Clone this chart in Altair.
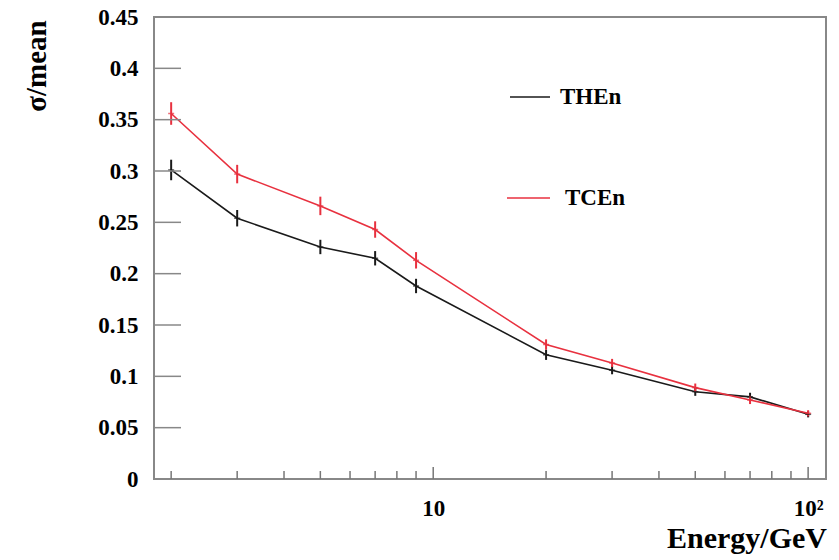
import altair as alt
import pandas as pd

# ---- data ----
energy = [2, 3, 5, 7, 9, 20, 30, 50, 70, 100]
then_vals = [0.301, 0.254, 0.226, 0.215, 0.188, 0.121, 0.106, 0.085, 0.080, 0.063]
then_err = [0.010, 0.008, 0.007, 0.007, 0.007, 0.005, 0.004, 0.004, 0.004, 0.003]
tcen_vals = [0.356, 0.297, 0.266, 0.243, 0.213, 0.131, 0.113, 0.089, 0.077, 0.064]
tcen_err = [0.011, 0.009, 0.009, 0.008, 0.008, 0.005, 0.004, 0.004, 0.004, 0.003]
series_names = ["THEn", "TCEn"]
series_colors = ["#1a1a1a", "#e8313f"]
y_tick_values = [0, 0.05, 0.1, 0.15, 0.2, 0.25, 0.3, 0.35, 0.4, 0.45]
x_minor_ticks = [2, 3, 4, 5, 6, 7, 8, 9, 20, 30, 40, 50, 60, 70, 80, 90]
x_major_ticks = [10, 100]

rows = []
for name, vals, errs in [("THEn", then_vals, then_err), ("TCEn", tcen_vals, tcen_err)]:
    for e, v, s in zip(energy, vals, errs):
        rows.append({"series": name, "energy": e, "value": v, "lo": v - s, "hi": v + s})
df = pd.DataFrame(rows)

FONT = "Liberation Serif"
W, H = 672, 462

xscale = alt.Scale(type="log", domain=[1.8, 111.6], nice=False)
yscale = alt.Scale(domain=[0, 0.45], nice=False, zero=False)
xaxis = alt.Axis(values=x_major_ticks, title=None, labelPadding=18,
                 labelExpr="datum.value == 100 ? '10²' : '10'")
yaxis = alt.Axis(values=y_tick_values, title=None, format="~g", labelPadding=16)
color = alt.Color("series:N", scale=alt.Scale(domain=series_names, range=series_colors), legend=None)

base = alt.Chart(df)

lines = base.mark_line(strokeWidth=1.6).encode(
    x=alt.X("energy:Q", scale=xscale, axis=xaxis),
    y=alt.Y("value:Q", scale=yscale, axis=yaxis),
    color=color,
    detail="series:N",
)

errbars = base.mark_rule(strokeWidth=2).encode(
    x=alt.X("energy:Q", scale=xscale, axis=xaxis),
    y=alt.Y("lo:Q", scale=yscale, axis=yaxis),
    y2="hi:Q",
    color=color,
)

crosses = base.mark_tick(orient="horizontal", size=6, thickness=1.5).encode(
    x=alt.X("energy:Q", scale=xscale, axis=xaxis),
    y=alt.Y("value:Q", scale=yscale, axis=yaxis),
    color=color,
)

ytick_df = pd.DataFrame({"t": y_tick_values[1:-1]})
yticks = alt.Chart(ytick_df).mark_rule(color="#888888", strokeWidth=1.5).encode(
    y=alt.Y("t:Q", scale=yscale, axis=yaxis),
    x=alt.value(0), x2=alt.value(27),
)

xminor_df = pd.DataFrame({"t": x_minor_ticks})
xminor = alt.Chart(xminor_df).mark_rule(color="#777777", strokeWidth=1.5).encode(
    x=alt.X("t:Q", scale=xscale, axis=xaxis),
    y=alt.value(H), y2=alt.value(H - 8),
)
xmajor_df = pd.DataFrame({"t": x_major_ticks})
xmajor = alt.Chart(xmajor_df).mark_rule(color="#777777", strokeWidth=1.5).encode(
    x=alt.X("t:Q", scale=xscale, axis=xaxis),
    y=alt.value(H), y2=alt.value(H - 12),
)

# legend
leg_df = pd.DataFrame({"series": series_names})
leg_line_then = alt.Chart(leg_df[leg_df.series == "THEn"]).mark_rule(strokeWidth=1.5).encode(
    x=alt.value(356), x2=alt.value(396), y=alt.value(80), color=color)
leg_line_tcen = alt.Chart(leg_df[leg_df.series == "TCEn"]).mark_rule(strokeWidth=1.5).encode(
    x=alt.value(353), x2=alt.value(396), y=alt.value(181), color=color)
leg_text_then = alt.Chart(leg_df[leg_df.series == "THEn"]).mark_text(
    font=FONT, fontWeight="bold", fontSize=23, align="left", baseline="middle", color="black"
).encode(x=alt.value(406), y=alt.value(80), text="series:N")
leg_text_tcen = alt.Chart(leg_df[leg_df.series == "TCEn"]).mark_text(
    font=FONT, fontWeight="bold", fontSize=23, align="left", baseline="middle", color="black"
).encode(x=alt.value(411), y=alt.value(181), text="series:N")

# axis titles
ytitle = alt.Chart(pd.DataFrame({"t": ["σ/mean"]})).mark_text(
    font=FONT, fontWeight="bold", fontSize=29, angle=270, align="center", baseline="middle", color="black"
).encode(x=alt.value(-117), y=alt.value(49), text="t:N")
xtitle = alt.Chart(pd.DataFrame({"t": ["Energy/GeV"]})).mark_text(
    font=FONT, fontWeight="bold", fontSize=30, align="right", baseline="alphabetic", color="black"
).encode(x=alt.value(W + 1), y=alt.value(H + 69), text="t:N")

chart = alt.layer(
    lines, errbars, crosses, yticks, xminor, xmajor,
    leg_line_then, leg_line_tcen, leg_text_then, leg_text_tcen, ytitle, xtitle,
).properties(
    width=W, height=H,
    padding={"left": 154, "top": 17, "right": 13, "bottom": 81},
    autosize=alt.AutoSizeParams(type="none"),
    background="white",
).configure_view(
    stroke="#888888", strokeWidth=2,
).configure_axis(
    domain=False, ticks=False, grid=False,
    labelFont=FONT, labelFontWeight="bold", labelFontSize=23, labelColor="black",
)

chart.save("out.html", embed_options={"renderer": "svg", "actions": False})
